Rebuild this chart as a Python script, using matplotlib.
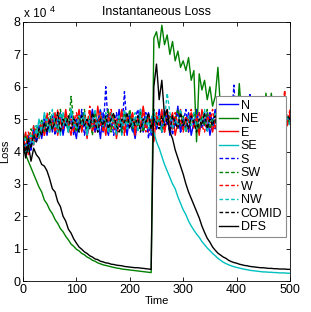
import numpy as np
import matplotlib
matplotlib.use("Agg")
import matplotlib.pyplot as plt

plt.rcParams['font.family'] = ['Liberation Sans', 'DejaVu Sans']

# time axis (every 5 steps)
time = list(range(0, 501, 5))

# values in units of 1e4
N = [4.5,4.0,4.3,4.1,4.6,4.3,4.8,4.4,4.9,4.5,
     5.0,4.6,5.1,4.7,5.2,4.5,5.0,4.6,5.3,4.8,
     4.4,5.1,4.7,5.2,4.5,4.9,5.3,4.6,5.0,4.4,
     5.2,4.8,4.5,5.1,4.9,4.6,5.3,4.7,5.0,4.5,
     5.2,4.8,4.4,5.0,5.3,4.6,4.9,5.2,4.5,5.0,
     4.7,5.3,4.6,4.9,5.2,4.5,5.1,4.8,5.4,4.6,
     5.0,4.7,5.2,4.5,4.9,5.3,4.6,5.0,4.8,5.2,
     4.5,4.9,5.3,4.7,5.1,4.6,5.0,5.4,4.7,4.9,
     5.2,4.6,5.0,4.8,5.3,4.5,4.9,5.2,4.7,5.0,
     4.6,5.3,4.8,5.0,4.6,5.2,4.9,4.7,5.3,5.0,
     5.1]

NE = [4.1,3.9,3.7,3.5,3.3,3.1,2.9,2.75,2.5,2.38,
      2.2,2.08,1.9,1.78,1.62,1.52,1.38,1.27,1.14,1.07,
      0.98,0.93,0.85,0.81,0.74,0.70,0.64,0.61,0.56,0.53,
      0.50,0.48,0.46,0.44,0.42,0.40,0.39,0.37,0.36,0.35,
      0.34,0.33,0.32,0.31,0.30,0.29,0.28,0.27,0.26,
      7.5,7.7,7.2,7.9,7.3,7.6,7.0,7.4,6.8,7.1,
      6.6,6.8,6.5,6.9,6.2,6.5,4.3,6.4,5.9,6.2,
      5.6,6.0,5.4,5.7,6.6,5.3,5.6,4.9,5.3,5.0,
      5.4,4.8,6.1,5.0,5.3,4.7,5.2,4.9,5.3,4.6,
      5.1,4.8,5.8,4.9,5.8,5.0,4.7,5.2,4.9,5.3,
      4.8,5.1]

E = [4.3,4.6,3.9,4.4,4.2,4.7,4.4,4.9,4.5,5.1,
     4.6,4.9,5.2,4.5,5.0,4.7,5.3,4.8,4.5,5.1,
     4.8,5.3,4.6,5.0,4.4,5.2,4.9,4.6,5.4,4.8,
     5.0,4.5,5.2,4.7,5.1,4.4,4.9,5.3,4.6,5.0,
     4.8,5.2,4.5,5.1,4.7,5.4,4.9,4.6,5.0,4.3,
     5.1,4.8,5.3,4.6,5.0,4.9,5.2,4.5,4.9,5.3,
     4.7,5.0,4.6,5.2,4.8,5.1,4.5,5.3,4.9,4.7,
     5.2,4.6,5.0,4.8,5.4,4.7,5.1,4.9,4.6,5.2,
     4.8,5.1,4.6,5.3,4.9,5.0,4.7,5.2,4.5,5.0,
     5.3,4.8,5.1,4.6,5.0,5.2,4.7,4.9,5.8,4.8,
     5.2]

SE = [4.4,4.0,4.5,4.2,4.8,4.5,5.0,4.6,5.2,4.8,
      4.6,5.1,4.8,5.0,4.5,5.2,4.9,4.6,5.3,4.8,
      5.0,4.6,5.2,4.9,4.5,5.1,4.7,5.0,4.6,5.3,
      4.8,5.0,4.6,5.2,4.9,4.7,5.1,4.5,5.0,4.8,
      5.2,4.6,5.0,4.8,5.3,4.7,5.1,4.9,4.6,
      4.6,4.3,4.1,3.85,3.6,3.4,3.2,3.0,2.85,2.6,
      2.4,2.2,2.05,1.85,1.7,1.57,1.45,1.35,1.22,1.12,
      1.02,0.94,0.85,0.78,0.70,0.64,0.58,0.54,0.50,0.47,
      0.44,0.42,0.40,0.38,0.36,0.35,0.33,0.32,0.31,0.30,
      0.29,0.28,0.28,0.27,0.27,0.26,0.26,0.25,0.25,0.25,
      0.24,0.24]

S = [4.4,4.2,4.5,4.0,4.7,4.3,4.6,4.5,5.0,4.6,
     4.8,5.1,4.5,4.9,5.2,4.6,5.0,4.8,5.1,4.5,
     5.0,4.7,5.3,4.5,5.0,4.8,5.2,4.6,4.9,5.3,
     4.6,6.0,4.7,5.0,4.5,5.2,4.8,4.6,5.85,4.7,
     5.1,4.6,5.0,5.3,4.7,4.9,5.2,4.4,5.0,5.2,
     4.7,5.0,4.6,5.3,4.8,5.1,4.5,5.0,5.2,4.6,
     4.9,5.3,4.6,5.1,4.8,5.0,5.2,4.7,5.0,4.6,
     5.2,4.9,4.7,5.3,4.8,5.0,4.6,5.1,4.9,6.05,
     4.8,5.2,4.6,5.0,4.9,5.8,4.7,5.1,4.8,5.3,
     4.6,5.0,4.8,5.2,4.7,5.1,4.9,4.6,5.2,4.9,
     5.0]

SW = [4.2,4.5,4.3,4.7,4.4,4.8,4.5,5.0,4.6,4.9,
      5.2,4.7,5.0,4.6,5.3,4.8,5.1,4.7,5.7,4.9,
      4.6,5.1,4.8,5.3,4.7,5.0,4.5,5.2,4.8,5.1,
      4.7,5.0,5.3,4.6,5.1,4.8,5.0,4.6,5.2,4.9,
      5.3,4.7,5.0,4.8,5.2,4.6,4.9,5.1,4.7,5.3,
      4.8,5.0,4.6,5.2,4.9,5.1,4.7,5.0,5.3,4.8,
      5.1,4.6,5.0,4.8,5.2,4.9,4.7,5.1,4.8,5.3,
      4.7,5.0,4.9,5.2,4.6,5.1,4.8,5.0,5.3,4.7,
      5.0,4.8,5.2,4.7,5.0,4.9,5.3,4.6,5.1,4.8,
      5.2,4.7,5.0,4.9,5.3,4.8,5.0,4.7,5.1,5.0,
      4.9]

W = [4.5,4.1,4.6,4.3,4.8,4.4,4.7,4.9,4.5,5.2,
     4.8,5.0,4.6,5.3,4.9,4.7,5.2,4.8,5.0,4.6,
     5.2,4.9,4.7,5.1,4.8,5.4,4.6,5.0,4.8,5.2,
     4.6,5.0,4.9,5.3,4.7,5.0,4.8,5.2,4.5,5.1,
     4.9,5.2,4.7,5.0,4.8,5.3,4.6,5.1,4.9,4.7,
     5.2,4.8,5.0,4.6,5.3,4.9,4.7,5.2,4.8,5.0,
     4.6,5.1,4.9,5.3,4.7,5.0,5.2,4.8,4.6,5.1,
     4.9,5.3,4.7,5.0,4.8,5.2,4.9,4.6,5.1,4.8,
     5.3,4.7,5.0,4.9,5.2,4.6,5.1,4.8,5.0,5.2,
     4.7,4.9,5.3,4.8,5.0,4.6,5.2,4.8,5.9,4.9,
     5.3]

NW = [4.6,4.3,4.0,4.5,4.2,4.8,4.4,4.9,4.7,5.0,
      4.7,5.3,4.9,4.6,5.2,4.8,5.0,4.6,5.3,4.9,
      4.7,5.1,4.8,5.2,4.6,5.0,4.9,5.3,4.7,5.0,
      4.8,5.2,4.6,5.0,4.9,4.5,5.1,4.8,5.3,4.7,
      5.0,4.8,5.2,4.6,5.1,4.9,5.0,4.7,5.0,5.3,
      4.8,5.1,4.6,5.0,5.8,5.2,4.7,5.0,4.8,5.3,
      4.9,4.6,5.1,4.8,5.2,4.7,5.0,4.9,5.3,4.6,
      5.0,4.8,5.2,4.7,4.9,5.1,4.6,5.0,4.8,5.2,
      4.7,5.0,4.9,5.3,4.8,5.1,4.6,5.0,5.2,4.8,
      5.0,4.7,5.1,4.9,4.6,5.2,4.8,5.0,4.7,5.1,
      4.8]

COMID = [4.3,4.0,4.4,4.1,4.5,4.3,4.7,4.5,4.9,4.6,
         5.0,4.7,4.9,5.2,4.6,5.0,4.8,5.1,4.7,5.0,
         4.9,4.6,5.1,4.8,5.0,4.7,5.2,4.9,4.6,5.0,
         4.8,5.1,4.7,5.0,5.2,4.8,4.6,5.0,4.9,5.2,
         4.7,5.0,4.8,5.1,4.6,5.0,4.9,5.2,4.7,5.0,
         4.9,4.7,5.1,4.8,5.0,4.6,5.1,4.9,4.7,5.2,
         4.8,5.0,4.7,5.1,4.9,4.6,5.0,4.8,5.2,4.7,
         5.0,4.8,5.1,4.6,5.0,4.9,5.2,4.7,4.9,5.1,
         4.8,5.0,4.7,5.2,4.9,4.8,5.1,4.6,5.0,4.9,
         5.1,4.7,5.0,4.9,5.2,4.8,4.6,5.0,4.9,5.1,
         5.0]

DFS = [4.3,3.8,4.2,3.7,4.1,3.9,3.8,3.6,3.55,3.4,
       3.15,2.85,2.75,2.45,2.3,2.0,1.85,1.6,1.48,1.3,
       1.17,1.05,0.98,0.9,0.85,0.78,0.74,0.68,0.66,0.61,
       0.59,0.56,0.55,0.52,0.51,0.49,0.48,0.47,0.45,0.44,
       0.43,0.42,0.41,0.41,0.40,0.39,0.38,0.37,0.36,
       6.0,6.7,5.6,6.2,5.1,5.3,4.6,4.4,4.05,3.8,
       3.55,3.3,3.0,2.75,2.55,2.35,2.15,1.95,1.7,1.5,
       1.32,1.2,1.05,0.95,0.86,0.80,0.74,0.70,0.64,0.60,
       0.57,0.55,0.52,0.50,0.48,0.47,0.45,0.44,0.43,0.42,
       0.41,0.41,0.40,0.39,0.39,0.38,0.38,0.37,0.37,0.37,
       0.36,0.36]

series = [
    ("N", N, (0, 0, 1), "-"),
    ("NE", NE, (0, 0.5, 0), "-"),
    ("E", E, (1, 0, 0), "-"),
    ("SE", SE, (0, 0.75, 0.75), "-"),
    ("S", S, (0, 0, 1), "--"),
    ("SW", SW, (0, 0.5, 0), "--"),
    ("W", W, (1, 0, 0), "--"),
    ("NW", NW, (0, 0.75, 0.75), "--"),
    ("COMID", COMID, (0, 0, 0), "--"),
    ("DFS", DFS, (0, 0, 0), "-"),
]

fig = plt.figure(figsize=(3.11, 3.12), dpi=100)
ax = fig.add_axes([23/311, 1-281/312, 267/311, 259/312])

for name, vals, col, ls in series:
    ax.plot(time, vals, color=col, linestyle=ls, lw=1.0, label=name,
            dashes=(2.6, 1.6) if ls == "--" else (None, None))

ax.set_xlim(0, 500)
ax.set_ylim(0, 8)
ax.set_xticks([0, 100, 200, 300, 400, 500])
ax.set_yticks(range(0, 9))
ax.tick_params(direction='in', top=True, right=True, labelsize=9, length=3, width=0.6, pad=2)
for s in ax.spines.values():
    s.set_linewidth(0.6)
ax.set_title("Instantaneous Loss", fontsize=9, pad=5)
ax.set_xlabel("Time", fontsize=8, labelpad=0)
ax.set_ylabel("Loss", fontsize=8, labelpad=2)
ax.text(0.003, 1.008, "x 10", transform=ax.transAxes, fontsize=8.5, va='bottom', ha='left')
ax.text(0.1, 1.03, "4", transform=ax.transAxes, fontsize=6.5, va='bottom', ha='left')

leg = ax.legend(loc='upper right', bbox_to_anchor=(0.985, 0.714), borderaxespad=0,
                fontsize=9, labelspacing=0.12, handlelength=1.45, handletextpad=0.25,
                borderpad=0.3, fancybox=False, framealpha=1)
leg.get_frame().set_edgecolor((0.55, 0.55, 0.55))
leg.get_frame().set_linewidth(0.8)

fig.savefig("out.png", dpi=100)
